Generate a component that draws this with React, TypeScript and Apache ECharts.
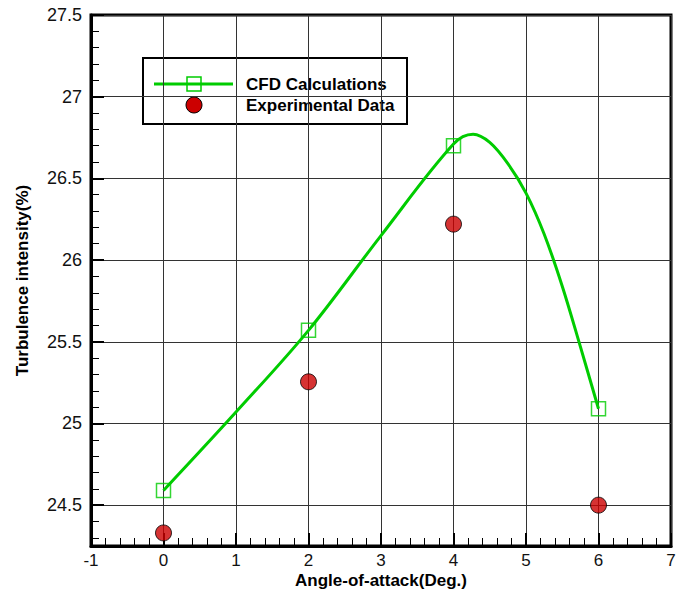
import React, { useEffect, useRef } from "react";
import * as echarts from "echarts";

// ---- data ----
const angles = [0, 2, 4, 6];
const cfdValues = [24.59, 25.57, 26.7, 25.09];
const expValues = [24.33, 25.255, 26.22, 24.5];
// CFD spline curve
const curveX = [0, 1, 2, 3, 4, 4.27, 4.5, 4.75, 5, 5.25, 5.5, 5.75, 6];
const curveY = [24.59, 25.07, 25.57, 26.15, 26.71, 26.77, 26.72, 26.59, 26.41, 26.16, 25.84, 25.47, 25.09];
const yTickValues = [24.5, 25, 25.5, 26, 26.5, 27, 27.5];
const xName = "Angle-of-attack(Deg.)";
const yName = "Turbulence intensity(%)";
const cfdLabel = "CFD Calculations";
const expLabel = "Experimental Data";

const FONT = "'Liberation Sans', Arial, Helvetica, sans-serif";
const GREEN = "#00cc00";
const RED = "#cc0000";

export default function App() {
  const ref = useRef<HTMLDivElement>(null);
  useEffect(() => {
    if (!ref.current) return;
    const chart = echarts.init(ref.current, undefined, { renderer: "svg" });
    const yMin = 24.25;
    const yMax = 27.5;
    const yMinor: number[] = [];
    for (let k = 243; k <= 275; k++) {
      if (k % 5 !== 0) yMinor.push(k / 10);
    }
    const option: any = {
      animation: false,
      backgroundColor: "#ffffff",
      textStyle: { fontFamily: FONT },
      grid: {
        left: 91,
        right: 20,
        top: 15,
        bottom: 48,
        containLabel: false,
        outerBoundsMode: "none",
        show: true,
        borderColor: "#000",
        borderWidth: 3,
        backgroundColor: "transparent",
      },
      xAxis: {
        type: "value",
        min: -1,
        max: 7,
        interval: 1,
        name: xName,
        nameLocation: "middle",
        nameGap: 26,
        nameMoveOverlap: false,
        nameTextStyle: { fontFamily: FONT, fontSize: 17, lineHeight: 17, fontWeight: "bold", color: "#000" },
        axisLine: { show: true, onZero: false, lineStyle: { color: "#000", width: 3 } },
        axisTick: { show: true, inside: true, length: 13, lineStyle: { color: "#000", width: 2 } },
        minorTick: { show: true, splitNumber: 5, length: 8, lineStyle: { color: "#000", width: 1 } },
        axisLabel: { fontFamily: FONT, fontSize: 17, lineHeight: 17, color: "#111", margin: 6 },
        splitLine: { show: true, lineStyle: { color: "#333", width: 1 } },
      },
      yAxis: [
        {
          type: "value",
          min: yMin,
          max: yMax,
          position: "left",
          name: yName,
          nameLocation: "middle",
          nameGap: 60,
          nameMoveOverlap: false,
          nameTextStyle: { fontFamily: FONT, fontSize: 17, fontWeight: "bold", color: "#000" },
          axisLine: { show: true, onZero: false, lineStyle: { color: "#000", width: 3 } },
          axisTick: {
            show: true,
            inside: true,
            length: 13,
            customValues: yTickValues,
            lineStyle: { color: "#000", width: 2 },
          },
          axisLabel: { fontFamily: FONT, fontSize: 18, color: "#111", margin: 9, customValues: yTickValues },
          splitLine: { show: true, lineStyle: { color: "#333", width: 1 } },
        },
        {
          type: "value",
          min: yMin,
          max: yMax,
          position: "left",
          axisLine: { show: false, onZero: false },
          axisLabel: { show: false },
          splitLine: { show: false },
          axisTick: {
            show: true,
            inside: true,
            length: 8,
            customValues: yMinor,
            lineStyle: { color: "#000", width: 1 },
          },
        },
      ],
      series: [
        {
          type: "line",
          name: "curve",
          data: curveX.map((x, i) => [x, curveY[i]]),
          smooth: 0.35,
          showSymbol: false,
          lineStyle: { color: GREEN, width: 3 },
          z: 3,
        },
        {
          type: "scatter",
          name: cfdLabel,
          data: angles.map((a, i) => [a, cfdValues[i]]),
          symbol: "rect",
          symbolSize: 14,
          itemStyle: { color: "rgba(0,0,0,0)", borderColor: GREEN, borderWidth: 1.5 },
          z: 4,
        },
        {
          type: "scatter",
          name: expLabel,
          data: angles.map((a, i) => [a, expValues[i]]),
          symbol: "circle",
          symbolSize: 16,
          itemStyle: { color: RED, borderColor: "#000", borderWidth: 1 },
          z: 5,
        },
      ],
      graphic: [
        {
          type: "group",
          left: 142,
          top: 57,
          z: 100,
          children: [
            {
              type: "rect",
              shape: { x: 0, y: 0, width: 264, height: 66 },
              style: { fill: "#fff", stroke: "#000", lineWidth: 2 },
            },
            {
              type: "line",
              shape: { x1: 11, y1: 26, x2: 90, y2: 26 },
              style: { stroke: GREEN, lineWidth: 3 },
            },
            {
              type: "rect",
              shape: { x: 44, y: 19, width: 14, height: 14 },
              style: { fill: "rgba(0,0,0,0)", stroke: GREEN, lineWidth: 1.5 },
            },
            {
              type: "circle",
              shape: { cx: 51, cy: 47, r: 8 },
              style: { fill: RED, stroke: "#000", lineWidth: 1 },
            },
            {
              type: "text",
              x: 103,
              y: 26,
              style: {
                text: cfdLabel,
                fontFamily: FONT,
                fontSize: 17,
                fontWeight: "bold",
                fill: "#000",
                verticalAlign: "middle",
              },
            },
            {
              type: "text",
              x: 103,
              y: 47,
              style: {
                text: expLabel,
                fontFamily: FONT,
                fontSize: 17,
                fontWeight: "bold",
                fill: "#000",
                verticalAlign: "middle",
              },
            },
          ],
        },
      ],
    };
    chart.setOption(option);
    return () => chart.dispose();
  }, []);
  return (
    <div
      ref={ref}
      style={{ position: "fixed", left: 0, top: 0, width: 691, height: 594, background: "#fff" }}
    />
  );
}
